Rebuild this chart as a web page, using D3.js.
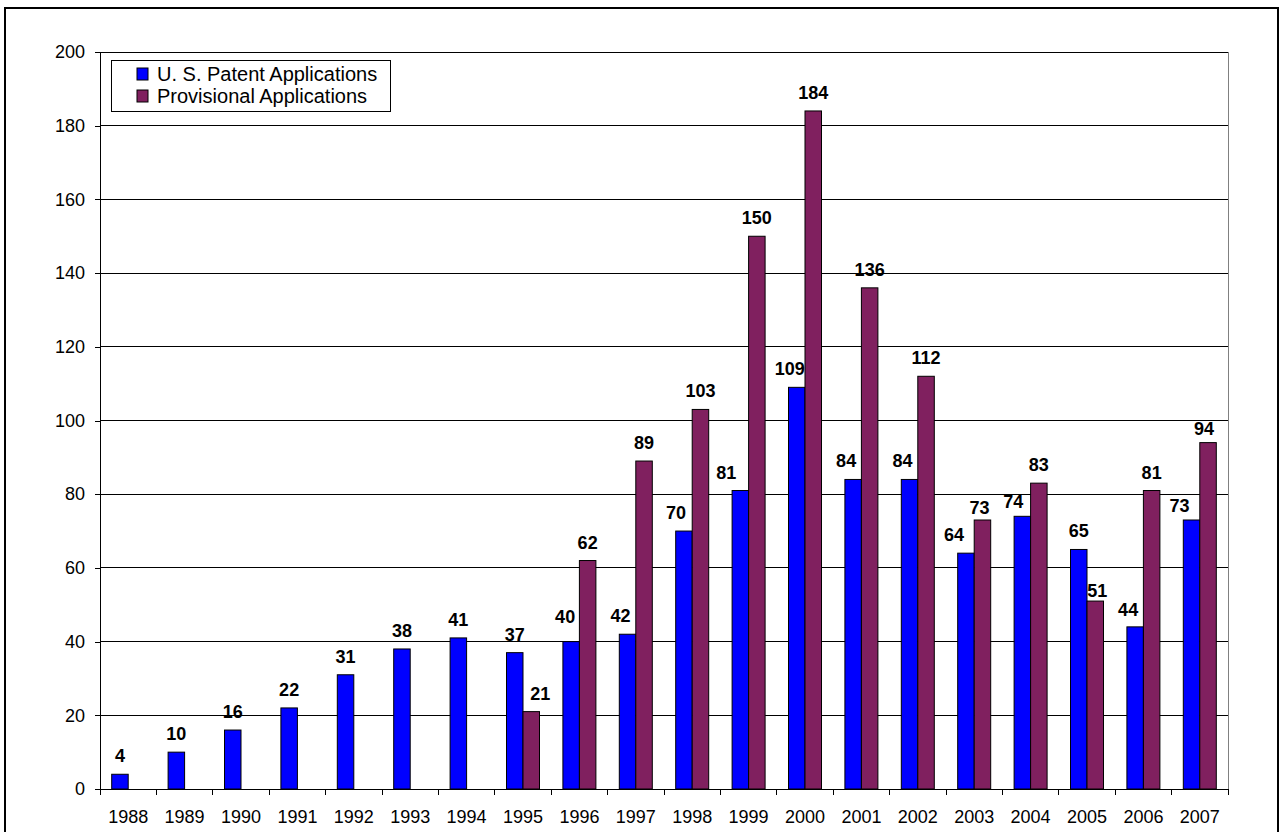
<!DOCTYPE html>
<html>
<head>
<meta charset="utf-8">
<script src="https://cdn.jsdelivr.net/npm/d3@7"></script>
<style>
  body { margin: 0; background: #fff; }
  text { font-family: Arial, "Liberation Sans", sans-serif; }
</style>
</head>
<body>
<script>
// Chart data
var years = ['1988', '1989', '1990', '1991', '1992', '1993', '1994', '1995', '1996', '1997',
             '1998', '1999', '2000', '2001', '2002', '2003', '2004', '2005', '2006', '2007'];
var patentApps = [4, 10, 16, 22, 31, 38, 41, 37, 40, 42, 70, 81, 109, 84, 84, 64, 74, 65, 44, 73];
var provisionalApps = [0, 0, 0, 0, 0, 0, 0, 21, 62, 89, 103, 150, 184, 136, 112, 73, 83, 51, 81, 94];
var seriesNames = ['U. S. Patent Applications', 'Provisional Applications'];
var yTicks = [0, 20, 40, 60, 80, 100, 120, 140, 160, 180, 200];

// Hand-placed label nudges (pixels), as in the original spreadsheet chart
var labelNudge = {
    'U. S. Patent Applications': {
        '1996': [-6, -7], '1997': [-7, 0], '1998': [-8, 0], '1999': [-14, 0], '2000': [-7, 0],
        '2001': [-7, 0], '2002': [-7, 0], '2003': [-12, 0], '2004': [-9, 4], '2006': [-7, 1], '2007': [-12, 4]
    },
    'Provisional Applications': {
        '1995': [9, 0], '2003': [-3, 6], '2005': [2, 8], '2007': [-4, 4]
    }
};

var colors = ['#0000ff', '#80205f'];

var W = 1281, H = 832;
var margin = {top: 52, left: 100},
    width = 1128,
    height = 737;

var svg = d3.select('body').append('svg')
    .attr('width', W)
    .attr('height', H);

// Outer frame
svg.append('rect')
    .attr('x', 5).attr('y', 8)
    .attr('width', 1273).attr('height', 830)
    .attr('fill', 'none')
    .attr('stroke', '#000')
    .attr('stroke-width', 2);

var g = svg.append('g')
    .attr('transform', 'translate(' + margin.left + ',' + margin.top + ')');

var x = d3.scaleBand().domain(years).range([0, width]);
var xs = d3.scaleBand().domain(seriesNames)
    .range([x.bandwidth() * 0.2075, x.bandwidth() * 0.7925]);
var y = d3.scaleLinear().domain([0, 200]).range([height, 0]);

// Gridlines
g.selectAll('.grid')
    .data(yTicks.slice(1))
    .enter().append('line')
    .attr('x1', 0).attr('x2', width)
    .attr('y1', function(d) { return y(d); })
    .attr('y2', function(d) { return y(d); })
    .attr('stroke', '#000')
    .attr('stroke-width', 1)
    .attr('shape-rendering', 'crispEdges');

// Plot area right border
g.append('line')
    .attr('x1', width).attr('x2', width)
    .attr('y1', 0).attr('y2', height)
    .attr('stroke', '#808080')
    .attr('shape-rendering', 'crispEdges');

// Bars
var rows = years.map(function(yr, i) {
    return {year: yr, values: [
        {name: seriesNames[0], value: patentApps[i], color: colors[0]},
        {name: seriesNames[1], value: provisionalApps[i], color: colors[1]}
    ]};
});

var groups = g.selectAll('.year')
    .data(rows)
    .enter().append('g')
    .attr('transform', function(d) { return 'translate(' + x(d.year) + ',0)'; });

groups.selectAll('rect')
    .data(function(d) { return d.values.filter(function(v) { return v.value > 0; }); })
    .enter().append('rect')
    .attr('x', function(d) { return xs(d.name); })
    .attr('width', xs.bandwidth())
    .attr('y', function(d) { return y(d.value); })
    .attr('height', function(d) { return height - y(d.value); })
    .attr('fill', function(d) { return d.color; })
    .attr('stroke', '#000')
    .attr('stroke-width', 1);

// Data labels
groups.selectAll('.lbl')
    .data(function(d) {
        return d.values.filter(function(v) { return v.value > 0; })
            .map(function(v) { return Object.assign({year: d.year}, v); });
    })
    .enter().append('text')
    .attr('text-anchor', 'middle')
    .attr('font-weight', 'bold')
    .attr('font-size', '18px')
    .attr('x', function(d) {
        var n = labelNudge[d.name][d.year] || [0, 0];
        return xs(d.name) + xs.bandwidth() / 2 + n[0];
    })
    .attr('y', function(d) {
        var n = labelNudge[d.name][d.year] || [0, 0];
        return y(d.value) - 12 + n[1];
    })
    .text(function(d) { return d.value; });

// Y axis
var yAxis = g.append('g')
    .call(d3.axisLeft(y).tickValues(yTicks).tickSize(5).tickPadding(10));
yAxis.selectAll('text').attr('font-size', '18px').attr('fill', '#000').attr('font-family', 'Arial, "Liberation Sans", sans-serif');
yAxis.selectAll('line, path').attr('stroke', '#000').attr('shape-rendering', 'crispEdges');
yAxis.select('.domain').attr('d', 'M0,' + height + 'V0');

// X axis
var xAxis = g.append('g')
    .attr('transform', 'translate(0,' + height + ')')
    .call(d3.axisBottom(x).tickSize(0).tickPadding(21));
xAxis.selectAll('text').attr('font-size', '18px').attr('fill', '#000').attr('font-family', 'Arial, "Liberation Sans", sans-serif');
xAxis.select('.domain').attr('d', 'M0,0H' + width).attr('stroke', '#000').attr('shape-rendering', 'crispEdges');
xAxis.selectAll('.bticks')
    .data(d3.range(years.length + 1))
    .enter().append('line')
    .attr('x1', function(i) { return i * x.step(); })
    .attr('x2', function(i) { return i * x.step(); })
    .attr('y1', 0).attr('y2', 6)
    .attr('stroke', '#000')
    .attr('shape-rendering', 'crispEdges');

// Legend
var legend = g.append('g').attr('transform', 'translate(11,8)');
legend.append('rect')
    .attr('width', 279).attr('height', 51)
    .attr('fill', '#fff')
    .attr('stroke', '#000')
    .attr('shape-rendering', 'crispEdges');
var items = legend.selectAll('.item')
    .data(seriesNames)
    .enter().append('g')
    .attr('transform', function(d, i) { return 'translate(26,' + (14 + i * 22) + ')'; });
items.append('rect')
    .attr('x', 0).attr('y', -6)
    .attr('width', 11).attr('height', 12)
    .attr('fill', function(d, i) { return colors[i]; })
    .attr('stroke', '#000');
items.append('text')
    .attr('x', 20).attr('y', 7)
    .attr('font-size', '20px')
    .text(function(d) { return d; });
</script>
</body>
</html>
